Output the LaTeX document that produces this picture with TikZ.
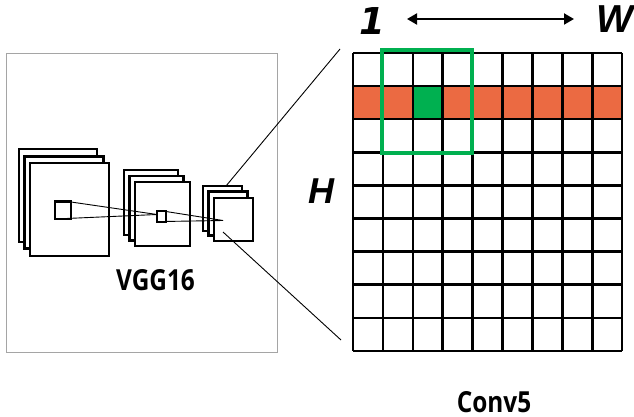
\documentclass[tikz,border=0pt]{standalone}
\usepackage{fontspec}
\setmainfont{Liberation Sans}
\newfontfamily\lblfont{Open Sans}[FakeStretch=0.84]
\newfontfamily\axfont{Liberation Sans}
\newfontfamily\onefont{DejaVu Sans}
\usetikzlibrary{arrows.meta}
\definecolor{rowor}{RGB}{235,106,66}
\definecolor{cellgr}{RGB}{0,176,80}
\definecolor{boxgray}{RGB}{165,165,165}
\tikzset{
  sq/.style={draw=black, line width=2.6pt, fill=white},
  gridline/.style={draw=black, line width=2.6pt},
  thinline/.style={draw=black, line width=0.9pt},
  lbl/.style={inner sep=0pt, anchor=base, font=\lblfont\bfseries\fontsize{29}{31}\selectfont},
}
\begin{document}
\begin{tikzpicture}[x=1pt,y=-1pt]
\useasboundingbox (0,0) rectangle (634,417);
% left framed box
\node[draw=boxgray, line width=1pt, minimum width=271pt, minimum height=298pt, inner sep=0pt] (vggbox) at (141.5,203) {};
% large stack
\draw[sq] (19,149) rectangle (97,242);
\draw[sq] (24.5,156.5) rectangle (103.5,248.5);
\draw[sq] (30,163) rectangle (109,256);
\draw[line width=2.2pt] (55,201.5) rectangle (71,219);
\coordinate (a1) at (71,202);
\coordinate (a2) at (55,219);
% medium stack
\draw[sq] (124,170) rectangle (178,235);
\draw[sq] (129.5,176) rectangle (183.5,240.5);
\draw[sq] (135,182) rectangle (190,246);
\draw[line width=2pt,fill=white] (157,210.5) rectangle (166,221.5);
\coordinate (b0) at (157,214.5);
\coordinate (b1) at (166,211.5);
\coordinate (b2) at (163,221.5);
% small stack
\draw[sq] (203,186) rectangle (242,231);
\draw[sq] (208.5,191.5) rectangle (247.5,235.5);
\draw[sq] (214,198) rectangle (253,241);
\coordinate (c0) at (223,220.5);
\coordinate (c1) at (226,186);
\coordinate (c2) at (223,232);
% converging lines
\draw[thinline] (a1) -- (b0);
\draw[thinline] (a2) -- (b0);
\draw[thinline] (b1) -- (c0);
\draw[thinline] (b2) -- (c0);
% VGG16 label
\node[lbl] (vgg) at (155.5,290) {VGG16};
% grid
\fill[rowor] (353,86.1) rectangle (622.1,119.2);
\fill[cellgr] (412.8,86.1) rectangle (442.7,119.2);
\foreach \i in {0,...,9} {
  \draw[gridline] (353+\i*29.9,53) -- (353+\i*29.9,350.9);
  \draw[gridline] (353,53+\i*33.1) -- (622.1,53+\i*33.1);
}
\draw[draw=cellgr, line width=4pt] (382,50.5) rectangle (472,153);
\coordinate (gtop) at (340,49);
\coordinate (gbot) at (341,340);
\draw[thinline] (c1) -- (gtop);
\draw[thinline] (c2) -- (gbot);
% labels
\node[inner sep=0pt, anchor=base, font=\onefont\bfseries\itshape\fontsize{37}{40}\selectfont] (one) at (372,35) {1};
\node[inner sep=0pt, anchor=base, font=\axfont\bfseries\itshape\fontsize{39}{42}\selectfont] (wlab) at (615,33) {W};
\node[inner sep=0pt, anchor=base, font=\axfont\bfseries\itshape\fontsize{36}{40}\selectfont] (hlab) at (321,203) {H};
\coordinate (arL) at (407,19);
\coordinate (arR) at (574,19);
\draw[line width=2pt, {Triangle[length=10pt,width=11pt]}-{Triangle[length=10pt,width=11pt]}] (arL) -- (arR);
\node[lbl] (conv) at (494,412) {Conv5};
\end{tikzpicture}
\end{document}
